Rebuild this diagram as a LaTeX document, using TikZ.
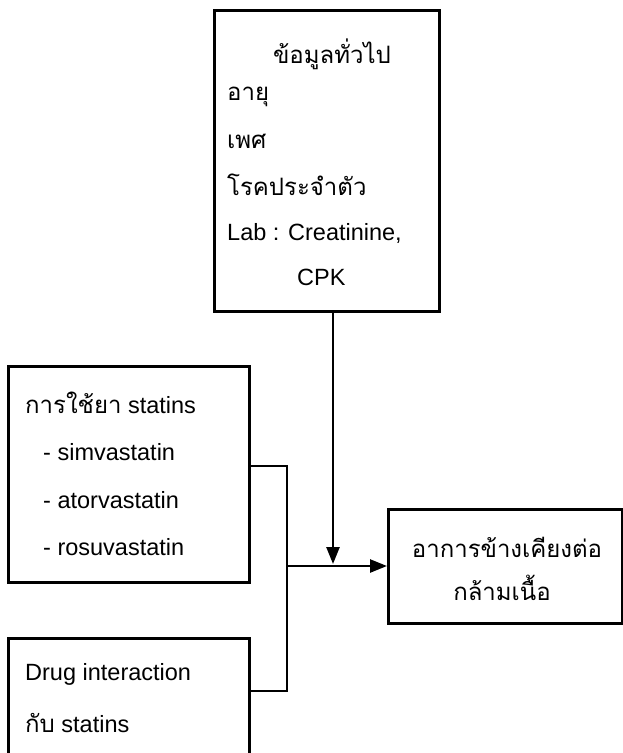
\documentclass[tikz,border=0pt]{standalone}
\usepackage{fontspec}
\setmainfont{Liberation Sans}
\newfontfamily\thai[Script=Thai, Scale=1.02]{Loma}
\usetikzlibrary{arrows.meta}
\tikzset{box/.style={rectangle, draw, line width=2.5pt, inner sep=0pt, anchor=north west}}
\tikzset{txt/.style={anchor=base west, inner sep=0pt, font=\fontsize{23.5}{28}\selectfont}}
\tikzset{ctxt/.style={txt, anchor=base}}
\tikzset{link/.style={line width=2.5pt}}
\tikzset{arr/.style={link, -{Triangle[length=17pt,width=13pt]}}}

\begin{document}
\begin{tikzpicture}[x=1pt, y=-1pt]

    \useasboundingbox (0,0) rectangle (623,753);

    % boxes
    \node[box, minimum width=225pt, minimum height=301pt] (info) at (213,9) {};
    \node[box, minimum width=241pt, minimum height=216pt] (statins) at (7,365) {};
    \node[box, minimum width=241pt, minimum height=160pt] (drug) at (7,637) {};
    \node[box, minimum width=234pt, minimum height=114pt] (effect) at (387,508) {};

    % texts
    \node[ctxt] (t-info) at (332,63) {\thai ข้อมูลทั่วไป};
    \node[txt] (t-age) at (227,100) {\thai อายุ};
    \node[txt] (t-sex) at (227,148) {\thai เพศ};
    \node[txt] (t-dis) at (227,195) {\thai โรคประจำตัว};
    \node[txt] (t-lab) at (227,240) {Lab : Creatinine,};
    \node[txt] (t-cpk) at (297,285) {CPK};

    \node[txt] (t-use) at (25,413) {{\thai การใช้ยา} statins};
    \node[txt] (t-sim) at (43,460) {- simvastatin};
    \node[txt] (t-ato) at (43,508) {- atorvastatin};
    \node[txt] (t-ros) at (43,555) {- rosuvastatin};

    \node[txt] (t-drug) at (25,680) {Drug interaction};
    \node[txt] (t-with) at (25,732) {{\thai กับ} statins};

    \node[ctxt] (t-eff1) at (507,557) {\thai อาการข้างเคียงต่อ};
    \node[ctxt] (t-eff2) at (502,600) {\thai กล้ามเนื้อ};

    % connectors
    \coordinate (bus-top) at (287,466);
    \coordinate (bus-bot) at (287,691);
    \coordinate (bus-mid) at (287,566);
    \coordinate (join) at (333,566);

    \draw[link] (statins.east |- bus-top) -- (bus-top) -- (bus-bot) -- (drug.east |- bus-bot);
    \draw[arr] (bus-mid) -- (effect.west |- bus-mid);
    \draw[arr, shorten >=2pt] (info.south -| join) -- (join);

  \end{tikzpicture}
\end{document}
